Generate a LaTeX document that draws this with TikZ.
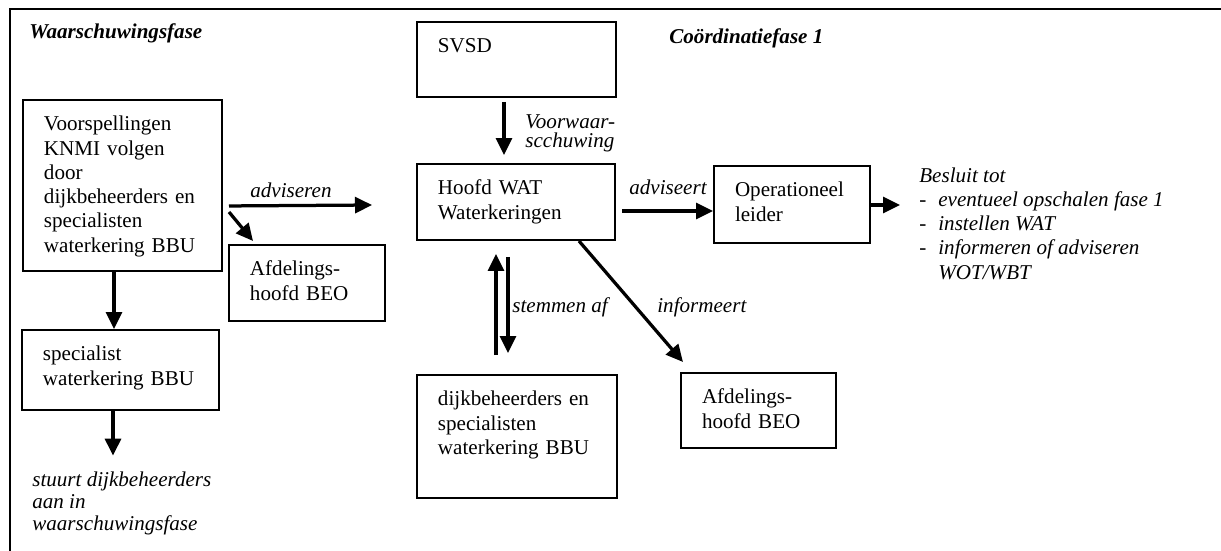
\documentclass[tikz,border=0pt]{standalone}
\usepackage{fontspec}
\setmainfont{Liberation Serif}
\usetikzlibrary{arrows.meta}

\newcommand{\wfont}{\fontsize{12}{13.8}\selectfont}

\tikzset{
  box/.style 2 args={draw, line width=0.04cm, anchor=north west, align=left,
    inner xsep=0.42cm, inner ysep=0pt, text width=#1*0.02cm-0.84cm,
    text height=0.62cm, text depth=#2*0.02cm-0.62cm, font=\wfont},
  lbl/.style={anchor=base west, inner sep=0pt, align=left, font=\wfont\itshape},
  phase/.style={anchor=base west, inner sep=0pt, font=\wfont\bfseries\itshape},
  arr/.style={line width=0.065cm, -{Triangle[length=0.34cm, width=0.32cm]}},
}

\begin{document}
\begin{tikzpicture}[x=0.02cm, y=-0.02cm]
\useasboundingbox (0,0) rectangle (1221,551);

% frame
\draw[line width=0.045cm] (10,551) -- (10,9) -- (1221,9);

% phases
\node[phase] (warn)  at (29,38)  {Waarschuwingsfase};
\node[phase] (coord) at (669,43) {Coördinatiefase 1};

% boxes
\node[box={199}{171}] (voorsp) at (22,99)   {Voorspellingen\\KNMI volgen\\door\\dijkbeheerders en\\specialisten\\waterkering BBU};
\node[box={156}{76}]  (afdA)   at (228,244) {Afdelings-\\hoofd BEO};
\node[box={197}{80}]  (spec)   at (21,329)  {specialist\\waterkering BBU};
\node[box={199}{75}]  (svsd)   at (416,21)  {SVSD};
\node[box={198}{76}]  (hoofd)  at (416,163) {Hoofd WAT\\Waterkeringen};
\node[box={156}{77}]  (oper)   at (713,165) {Operationeel\\leider};
\node[box={200}{123}] (dijk)   at (416,374) {dijkbeheerders en\\specialisten\\waterkering BBU};
\node[box={155}{75}]  (afdB)   at (680,372) {Afdelings-\\hoofd BEO};

% labels (multi-line ones sit on the baseline of their last line)
\node[lbl] (adviseren) at (250,197) {adviseren};
\node[lbl] (adviseert) at (629,194) {adviseert};
\node[lbl, font=\fontsize{12}{10.5}\selectfont\itshape] (voorw) at (525,147) {Voorwaar-\\scchuwing};
\node[lbl] (stemmen)   at (512,312) {stemmen af};
\node[lbl] (informeert) at (657,312) {informeert};
\node[lbl, font=\fontsize{12}{12.5}\selectfont\itshape] (stuurt) at (32,530) {stuurt dijkbeheerders\\aan in\\waarschuwingsfase};
\node[lbl] (besluit) at (919,279) {Besluit tot\\
  \makebox[0.38cm][l]{-}eventueel opschalen fase 1\\
  \makebox[0.38cm][l]{-}instellen WAT\\
  \makebox[0.38cm][l]{-}informeren of adviseren\\
  \hspace*{0.38cm}WOT/WBT};

% free arrow ends
\coordinate (advend) at (372,205);
\coordinate (decide) at (900,205);

% warning phase
\draw[arr, shorten <=0.12cm] ([yshift=-0.41cm]voorsp.east) -- (advend);
\draw[arr] ([xshift=0.12cm, yshift=-0.53cm]voorsp.east) -- ([xshift=0.5cm, yshift=0.06cm]afdA.north west);
\draw[arr] ([xshift=-0.17cm]voorsp.south) -- ([xshift=-0.17cm]voorsp.south |- spec.north);
\draw[arr, shorten >=0.31cm] ([xshift=-0.15cm]spec.south) -- ([xshift=-0.15cm]spec.south |- stuurt.north);

% coordination phase
\draw[arr, shorten <=0.08cm, shorten >=0.16cm] ([xshift=-0.25cm]svsd.south) -- ([xshift=-0.25cm]svsd.south |- hoofd.north);
\draw[arr, shorten <=0.12cm] ([yshift=-0.18cm]hoofd.east) -- ([yshift=-0.18cm]hoofd.east -| oper.west);
\draw[arr] (oper.east |- decide) -- (decide);
\draw[arr, shorten <=0.38cm, shorten >=0.26cm] ([xshift=-0.42cm]dijk.north) -- ([xshift=-0.42cm]dijk.north |- hoofd.south);
\draw[arr, shorten <=0.32cm, shorten >=0.42cm] ([xshift=-0.18cm]dijk.north |- hoofd.south) -- ([xshift=-0.18cm]dijk.north);
\draw[arr] ([xshift=-0.74cm]hoofd.south east) -- ([xshift=0.06cm, yshift=0.2cm]afdB.north west);

\end{tikzpicture}
\end{document}
